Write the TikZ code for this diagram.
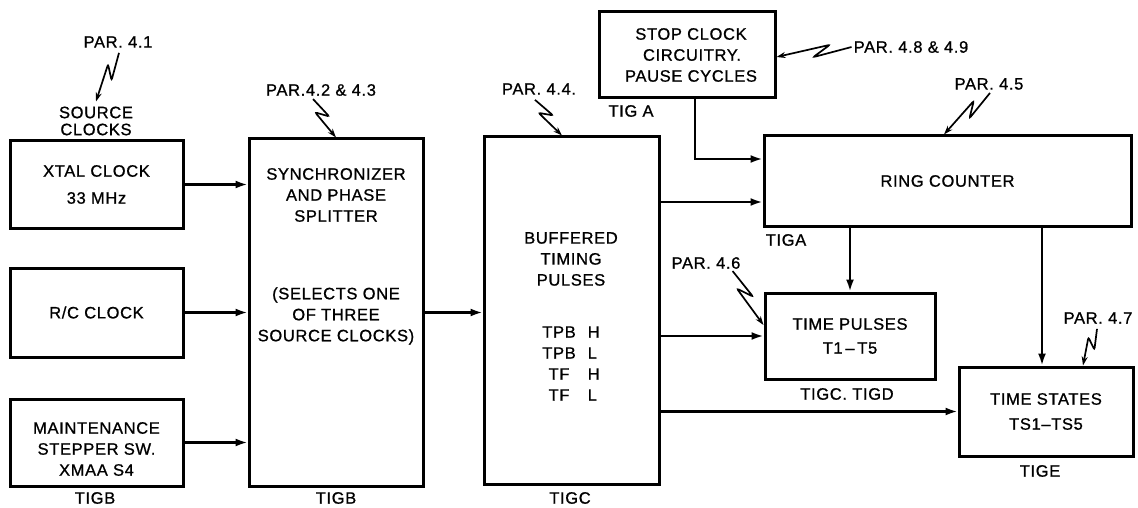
\documentclass[tikz,border=0pt]{standalone}
\usepackage{fontspec}
\setmainfont[LetterSpace=4,FakeBold=0.9]{Liberation Sans}
\usetikzlibrary{arrows.meta,calc}
\newcommand\lbl{\fontsize{16.5}{21}\selectfont}
\newcommand\squig[2]{\draw[lead] (#1) -- ($(#1)!0.52!(#2)!5pt!90:(#2)$) -- ($(#1)!0.28!(#2)!5pt!-90:(#2)$) -- (#2);}
\begin{document}
\begin{tikzpicture}[x=1pt,y=-1pt,
  box/.style={draw, line width=3pt, inner sep=0pt, align=center, font=\lbl},
  txt/.style={inner sep=0pt, align=center, font=\lbl},
  arr/.style={line width=2.2pt, -{Latex[length=12pt,width=8pt]}},
  lead/.style={line width=1.7pt, rounded corners=2pt, -{Stealth[length=9pt,width=6pt]}}]
\useasboundingbox[fill=white] (0,0) rectangle (1138,508);

% boxes
\node[box, minimum width=173pt, minimum height=87pt] (xtal) at (96.5,184.5) {XTAL CLOCK\\[6pt]33 MHz};
\node[box, minimum width=173pt, minimum height=89pt] (rc) at (96.5,312.5) {R/C CLOCK};
\node[box, minimum width=173pt, minimum height=87pt] (mnt) at (96.5,442.5) {};
\node[txt] (mnttxt) at (96.5,449) {MAINTENANCE\\STEPPER SW.\\XMAA S4};
\node[box, minimum width=174pt, minimum height=347pt] (sync) at (336,312.5) {};
\node[txt] (synct1) at (336,195) {SYNCHRONIZER\\AND PHASE\\SPLITTER};
\node[txt] (synct2) at (336,316) {(SELECTS ONE\\OF THREE\\SOURCE CLOCKS)};
\node[box, minimum width=175pt, minimum height=347pt] (buf) at (571.5,310.5) {};
\node[txt] (buft1) at (571,259) {BUFFERED\\TIMING\\PULSES};
\node[txt] (buft2) at (571,365) {\begin{tabular}{@{}c@{\hspace{12pt}}l@{}}TPB&H\\TPB&L\\TF&H\\TF&L\end{tabular}};
\node[box, minimum width=176pt, minimum height=86pt] (stop) at (687,55) {\hspace*{8pt}STOP CLOCK\\\hspace*{10pt}CIRCUITRY.\\\hspace*{8pt}PAUSE CYCLES};
\node[box, minimum width=367pt, minimum height=90pt] (ring) at (947.5,181) {RING COUNTER};
\node[box, minimum width=170pt, minimum height=86pt] (tp) at (850,336) {TIME PULSES\\[3pt]T1\,--\,T5};
\node[box, minimum width=174pt, minimum height=89pt] (ts) at (1046,411.5) {TIME STATES\\[4pt]TS1--TS5};

% labels
\node[txt] (p41) at (118,42) {PAR. 4.1};
\node[txt, font=\fontsize{16.5}{17}\selectfont] (srcl) at (96,121) {SOURCE\\CLOCKS};
\node[txt] (p42) at (321,90) {PAR.4.2 \& 4.3};
\node[txt] (p44) at (539,89) {PAR. 4.4.};
\node[txt] (tiga1) at (631,111) {TIG A};
\node[txt] (p48) at (911,47) {PAR. 4.8 \& 4.9};
\node[txt] (p45) at (989,84) {PAR. 4.5};
\node[txt] (tiga2) at (786,240) {TIGA};
\node[txt] (p46) at (706,263) {PAR. 4.6};
\node[txt] (tigcd) at (847,394) {TIGC. TIGD};
\node[txt] (p47) at (1098,318) {PAR. 4.7};
\node[txt] (tige) at (1040,471) {TIGE};
\node[txt] (tigc) at (570,498) {TIGC};
\node[txt] (tigb2) at (336,498) {TIGB};
\node[txt] (tigb1) at (95,498) {TIGB};

% connectors
\draw[arr] (xtal.east) -- (xtal.east -| sync.west);
\draw[arr] (rc.east) -- (rc.east -| sync.west);
\draw[arr] (mnt.east) -- (mnt.east -| sync.west);
\draw[arr] (sync.east) -- (sync.east -| buf.west);
\draw[arr] ([xshift=8pt]stop.south) |- ([yshift=22pt]ring.west);
\draw[arr] ([yshift=-21pt]ring.west -| buf.east) -- ([yshift=-21pt]ring.west);
\draw[arr] (tp.west -| buf.east) -- (tp.west);
\draw[arr] (ts.west -| buf.east) -- (ts.west);
\draw[arr] (tp.north |- ring.south) -- (tp.north);
\draw[arr] ([xshift=-4pt]ts.north |- ring.south) -- ([xshift=-4pt]ts.north);

% leaders
\squig{[xshift=1pt,yshift=-5pt]p41.south}{[yshift=5pt]srcl.north}
\squig{[xshift=-8pt,yshift=-3pt]p42.south}{sync.north}
\squig{[xshift=-4pt,yshift=-5pt]p44.south}{[xshift=-9.5pt]buf.north}
\squig{[xshift=-2pt]p48.west}{[yshift=-2pt]stop.east}
\squig{[xshift=1pt,yshift=-3pt]p45.south}{[xshift=-3.5pt]ring.north}
\squig{[xshift=-8pt,yshift=-2pt]p46.south east}{[yshift=11pt]tp.west}
\squig{[xshift=-1pt,yshift=-5pt]p47.south}{[xshift=37pt]ts.north}
\end{tikzpicture}
\end{document}
